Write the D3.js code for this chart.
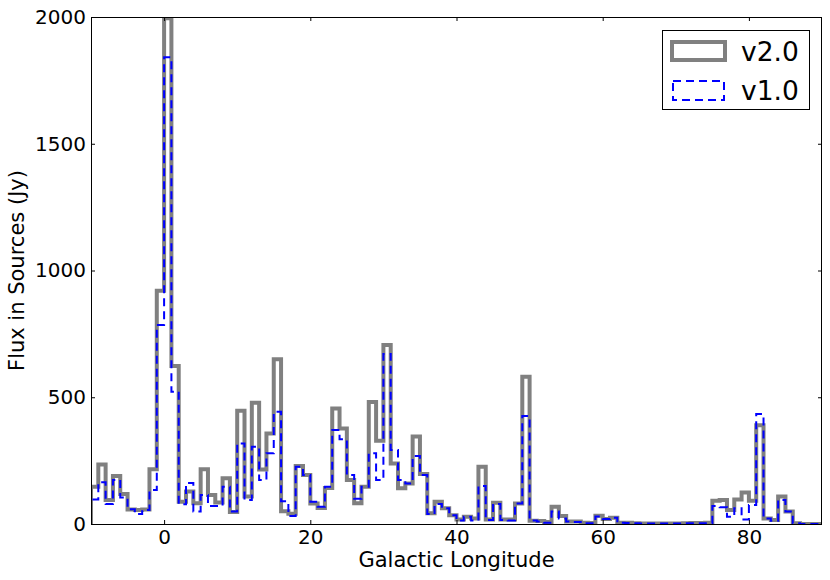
<!DOCTYPE html>
<html>
<head>
<meta charset="utf-8">
<script src="https://cdn.jsdelivr.net/npm/d3@7"></script>
<style>
  html, body { margin: 0; padding: 0; background: #fff; }
  svg { display: block; }
  text { font-family: "DejaVu Sans", sans-serif; fill: #000; }
</style>
</head>
<body>
<svg id="chart" width="830" height="580"></svg>
<script>
// Histogram bins: 1-degree wide, left edges from -10 to 89
const binStart = -10;
const binWidth = 1;

// Flux per bin (Jy), version 2.0 (grey, solid)
const fluxV2 = [
  147, 235, 95, 189, 118, 57, 55, 57, 216, 920,
  1995, 623, 88, 128, 82, 216, 114, 85, 180, 47,
  447, 108, 478, 215, 357, 650, 50, 40, 229, 193,
  81, 63, 142, 456, 377, 174, 82, 147, 481, 328,
  706, 239, 141, 160, 345, 197, 42, 88, 62, 35,
  18, 29, 22, 226, 18, 84, 18, 18, 81, 581,
  13, 12, 8, 68, 32, 10, 10, 5, 4, 33,
  20, 25, 5, 5, 3, 2, 2, 2, 2, 2,
  2, 3, 4, 4, 5, 92, 95, 55, 97, 124,
  92, 390, 22, 16, 108, 49, 3, 0, 0, 0
];

// Flux per bin (Jy), version 1.0 (blue, dashed)
const fluxV1 = [
  97, 165, 79, 174, 105, 58, 39, 55, 134, 785,
  1841, 522, 78, 162, 49, 114, 71, 71, 147, 49,
  318, 95, 305, 174, 279, 443, 90, 32, 226, 193,
  88, 68, 147, 371, 334, 193, 100, 147, 279, 174,
  671, 292, 174, 160, 268, 193, 39, 79, 62, 35,
  14, 29, 14, 150, 16, 79, 16, 14, 81, 426,
  14, 10, 5, 49, 22, 10, 8, 3, 3, 30,
  20, 25, 5, 4, 3, 2, 2, 2, 2, 2,
  2, 3, 3, 3, 3, 71, 66, 29, 62, 18,
  75, 434, 22, 13, 95, 49, 3, 0, 0, 0
];

const xTicks = [0, 20, 40, 60, 80];
const yTicks = [0, 500, 1000, 1500, 2000];
const xDomain = [-10, 90];
const yDomain = [0, 2000];
const seriesNames = ["v2.0", "v1.0"];
const xTitle = "Galactic Longitude";
const yTitle = "Flux in Sources (Jy)";

const L = 91, R = 822, T = 17, B = 524;
const svg = d3.select("#chart");
const x = d3.scaleLinear().domain(xDomain).range([L, R]);
const y = d3.scaleLinear().domain(yDomain).range([B, T]);

svg.append("defs").append("clipPath").attr("id", "clip")
  .append("rect").attr("x", L).attr("y", T).attr("width", R - L).attr("height", B - T);

function stepPoints(vals) {
  const pts = [[binStart, 0]];
  vals.forEach((v, i) => pts.push([binStart + i * binWidth, v]));
  const end = binStart + vals.length * binWidth;
  pts.push([end, vals[vals.length - 1]]);
  pts.push([end, 0]);
  return pts;
}
const line = d3.line().x(d => x(d[0])).y(d => y(d[1])).curve(d3.curveStepAfter);

const plot = svg.append("g").attr("clip-path", "url(#clip)");
plot.append("path").attr("d", line(stepPoints(fluxV2)))
  .attr("fill", "none").attr("stroke", "#808080").attr("stroke-width", 4)
  .attr("stroke-linejoin", "miter");
plot.append("path").attr("d", line(stepPoints(fluxV1)))
  .attr("fill", "none").attr("stroke", "#0000ff").attr("stroke-width", 2)
  .attr("stroke-dasharray", "8,5").attr("stroke-linejoin", "miter");

// Axes (inward ticks on all sides)
const axB = svg.append("g").attr("transform", `translate(0,${B})`)
  .call(d3.axisBottom(x).tickValues(xTicks).tickSize(-4).tickPadding(6).tickFormat(d3.format("d")));
const axT = svg.append("g").attr("transform", `translate(0,${T})`)
  .call(d3.axisTop(x).tickValues(xTicks).tickSize(-4).tickFormat(""));
const axLft = svg.append("g").attr("transform", `translate(${L},0)`)
  .call(d3.axisLeft(y).tickValues(yTicks).tickSize(-4).tickPadding(5).tickFormat(d3.format("d")));
const axRt = svg.append("g").attr("transform", `translate(${R},0)`)
  .call(d3.axisRight(y).tickValues(yTicks).tickSize(-4).tickFormat(""));
[axB, axT, axLft, axRt].forEach(g => {
  g.select(".domain").remove();
  g.selectAll(".tick line").attr("stroke", "#000").attr("stroke-width", 1);
  g.selectAll("text").attr("font-size", 20).attr("font-family", "DejaVu Sans").attr("fill", "#000");
});

svg.append("rect").attr("x", L + 0.5).attr("y", T + 0.5)
  .attr("width", R - L - 1).attr("height", B - T)
  .attr("fill", "none").attr("stroke", "#000").attr("stroke-width", 1);

// Axis titles
svg.append("text").attr("x", (L + R) / 2).attr("y", 567)
  .attr("text-anchor", "middle").attr("font-size", 21).text(xTitle);
svg.append("text").attr("transform", `translate(24,${(T + B) / 2}) rotate(-90)`)
  .attr("text-anchor", "middle").attr("font-size", 21).text(yTitle);

// Legend
const lg = svg.append("g");
lg.append("rect").attr("x", 662.5).attr("y", 30.5).attr("width", 147).attr("height", 79)
  .attr("fill", "#fff").attr("stroke", "#000").attr("stroke-width", 1);
lg.append("rect").attr("x", 672).attr("y", 42).attr("width", 53).attr("height", 18)
  .attr("fill", "none").attr("stroke", "#808080").attr("stroke-width", 4);
lg.append("rect").attr("x", 673).attr("y", 81).attr("width", 51).attr("height", 19)
  .attr("fill", "none").attr("stroke", "#0000ff").attr("stroke-width", 2).attr("stroke-dasharray", "8,5");
lg.append("text").attr("x", 741).attr("y", 60.5).attr("font-size", 26.5).text(seriesNames[0]);
lg.append("text").attr("x", 741).attr("y", 100).attr("font-size", 26.5).text(seriesNames[1]);
</script>
</body>
</html>
